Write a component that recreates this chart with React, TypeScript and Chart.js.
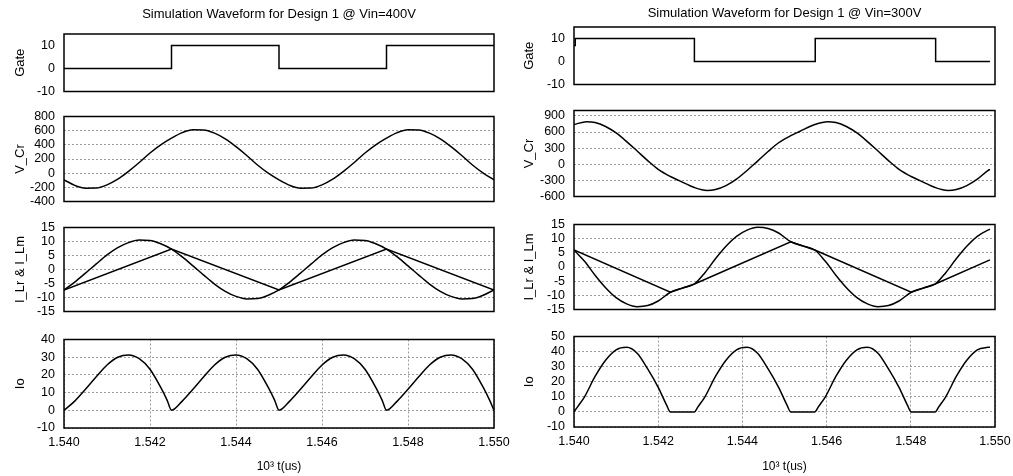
import React, { useEffect, useRef } from 'react';
import { Chart, registerables } from 'chart.js';

Chart.register(...registerables);

const FONT = "'Liberation Sans', Arial, Helvetica, sans-serif";
Chart.defaults.font.family = FONT;
Chart.defaults.color = '#000';

// ---------- shared axis data ----------
const xTicks = [1540, 1542, 1544, 1546, 1548, 1550];
const xTickLabels = ['1.540', '1.542', '1.544', '1.546', '1.548', '1.550'];
const xAxisTitle = '10³ t(us)';

const titleLeft = 'Simulation Waveform for Design 1 @ Vin=400V';
const titleRight = 'Simulation Waveform for Design 1 @ Vin=300V';

const gateTicks = [-10, 0, 10];
const vcrTicksLeft = [-400, -200, 0, 200, 400, 600, 800];
const vcrTicksRight = [-600, -300, 0, 300, 600, 900];
const iTicks = [-15, -10, -5, 0, 5, 10, 15];
const ioTicksLeft = [-10, 0, 10, 20, 30, 40];
const ioTicksRight = [-10, 0, 10, 20, 30, 40, 50];

// ---------- left column: Vin = 400V ----------
const gateTimeL = [1540, 1542.5, 1545, 1547.5, 1550];
const gateL = [0, 10, 0, 10, 10];

const timeL = [
  1540, 1540.25, 1540.5, 1540.75, 1541, 1541.25, 1541.5, 1541.75, 1542, 1542.25,
  1542.5, 1542.75, 1543, 1543.25, 1543.5, 1543.75, 1544, 1544.25, 1544.5, 1544.75,
  1545, 1545.25, 1545.5, 1545.75, 1546, 1546.25, 1546.5, 1546.75, 1547, 1547.25,
  1547.5, 1547.75, 1548, 1548.25, 1548.5, 1548.75, 1549, 1549.25, 1549.5, 1549.75,
  1550,
];
const vcrL = [
  -94, -172, -212, -210, -165, -85, 25, 150, 285, 400,
  494, 572, 612, 610, 565, 485, 375, 250, 115, 0,
  -94, -172, -212, -210, -165, -85, 25, 150, 285, 400,
  494, 572, 612, 610, 565, 485, 375, 250, 115, 0,
  -94,
];
const iLrL = [
  -7.3, -4.5, -1.3, 2.0, 5.2, 7.8, 9.6, 10.5, 10.4, 9.2,
  7.3, 4.5, 1.3, -2.0, -5.2, -7.8, -9.6, -10.5, -10.4, -9.2,
  -7.3, -4.5, -1.3, 2.0, 5.2, 7.8, 9.6, 10.5, 10.4, 9.2,
  7.3, 4.5, 1.3, -2.0, -5.2, -7.8, -9.6, -10.5, -10.4, -9.2,
  -7.3,
];
const iLmTimeL = [1540, 1542.5, 1545, 1547.5, 1550];
const iLmL = [-7.3, 7.3, -7.3, 7.3, -7.3];

const ioTimeL = [
  1540, 1540.25, 1540.5, 1540.75, 1541, 1541.25, 1541.5, 1541.75, 1542, 1542.25, 1542.4,
  1542.5, 1542.75, 1543, 1543.25, 1543.5, 1543.75, 1544, 1544.25, 1544.5, 1544.75, 1544.9,
  1545, 1545.25, 1545.5, 1545.75, 1546, 1546.25, 1546.5, 1546.75, 1547, 1547.25, 1547.4,
  1547.5, 1547.75, 1548, 1548.25, 1548.5, 1548.75, 1549, 1549.25, 1549.5, 1549.75, 1549.9,
  1550,
];
const ioL = [
  0, 5.2, 11.9, 18.9, 25.6, 30.0, 31.3, 29.2, 23.2, 12.9, 5.6,
  0, 5.2, 11.9, 18.9, 25.6, 30.0, 31.3, 29.2, 23.2, 12.9, 5.6,
  0, 5.2, 11.9, 18.9, 25.6, 30.0, 31.3, 29.2, 23.2, 12.9, 5.6,
  0, 5.2, 11.9, 18.9, 25.6, 30.0, 31.3, 29.2, 23.2, 12.9, 5.6,
  0,
];

// ---------- right column: Vin = 300V ----------
const gateTimeR = [1540, 1540.03, 1542.86, 1545.73, 1548.59, 1549.88];
const gateR = [7, 10, 0, 10, 0, 0];

const vcrTimeR = [
  1540, 1540.3, 1540.5, 1540.75, 1541, 1541.25, 1541.5, 1541.75, 1542, 1542.29,
  1542.5, 1542.86, 1543.16, 1543.36, 1543.61, 1543.86, 1544.11, 1544.36, 1544.61, 1544.86,
  1545.15, 1545.36, 1545.72, 1546.02, 1546.22, 1546.47, 1546.72, 1546.97, 1547.22, 1547.47,
  1547.72, 1548.01, 1548.22, 1548.58, 1548.88, 1549.08, 1549.33, 1549.58, 1549.83, 1549.88,
];
const vcrR = [
  738, 792, 776, 702, 582, 422, 246, 68, -95, -228,
  -305, -433, -487, -471, -397, -277, -117, 59, 237, 400,
  533, 610, 738, 792, 776, 702, 582, 422, 246, 68,
  -95, -228, -305, -433, -487, -471, -397, -277, -117, -95,
];

const iLrTimeR = [
  1540, 1540.25, 1540.5, 1540.75, 1541, 1541.25, 1541.5, 1541.75, 1542, 1542.29,
  1542.575, 1542.86, 1543.11, 1543.36, 1543.61, 1543.86, 1544.11, 1544.36, 1544.61, 1544.86,
  1545.15, 1545.435, 1545.72, 1545.97, 1546.22, 1546.47, 1546.72, 1546.97, 1547.22, 1547.47,
  1547.72, 1548.01, 1548.295, 1548.58, 1548.83, 1549.08, 1549.33, 1549.58, 1549.83, 1549.88,
];
const iLrR = [
  6, 2.0, -2.9, -7.3, -10.8, -13.0, -14.0, -13.6, -12.0, -8.9,
  -7.45, -6.0, -2.0, 2.9, 7.3, 10.8, 13.0, 14.0, 13.6, 12.0,
  8.9, 7.45, 6.0, 2.0, -2.9, -7.3, -10.8, -13.0, -14.0, -13.6,
  -12.0, -8.9, -7.45, -6.0, -2.0, 2.9, 7.3, 10.8, 13.0, 13.3,
];
const iLmTimeR = [1540, 1542.29, 1542.86, 1545.15, 1545.72, 1548.01, 1548.58, 1549.88];
const iLmR = [6, -8.9, -6.0, 8.9, 6.0, -8.9, -6.0, 2.5];

const ioTimeR = [
  1540, 1540.08, 1540.25, 1540.5, 1540.75, 1541, 1541.25, 1541.5, 1541.75, 1542, 1542.2, 1542.29,
  1542.86, 1542.94, 1543.11, 1543.36, 1543.61, 1543.86, 1544.11, 1544.36, 1544.61, 1544.86, 1545.06, 1545.15,
  1545.72, 1545.8, 1545.97, 1546.22, 1546.47, 1546.72, 1546.97, 1547.22, 1547.47, 1547.72, 1547.92, 1548.01,
  1548.58, 1548.66, 1548.83, 1549.08, 1549.33, 1549.58, 1549.83, 1549.88,
];
const ioR = [
  0, 3.2, 10, 23.5, 34.3, 41.2, 42.8, 38.9, 28.5, 16.3, 4.5, 0,
  0, 3.2, 10, 23.5, 34.3, 41.2, 42.8, 38.9, 28.5, 16.3, 4.5, 0,
  0, 3.2, 10, 23.5, 34.3, 41.2, 42.8, 38.9, 28.5, 16.3, 4.5, 0,
  0, 3.2, 10, 23.5, 34.3, 41.2, 42.8, 42.9,
];

// ---------- helpers ----------
const pts = (xs: number[], ys: number[]) => xs.map((x, i) => ({ x, y: ys[i] }));

const LINE = { borderColor: '#000', borderWidth: 1.5, pointRadius: 0, fill: false };
const smooth = (xs: number[], ys: number[], label: string) => ({
  ...LINE, label, data: pts(xs, ys), cubicInterpolationMode: 'monotone' as const,
});
const straight = (xs: number[], ys: number[], label: string) => ({
  ...LINE, label, data: pts(xs, ys), tension: 0,
});
const step = (xs: number[], ys: number[], label: string) => ({
  ...LINE, label, data: pts(xs, ys), stepped: true,
});

const boxPlugin = {
  id: 'panelBox',
  afterDraw(chart: any) {
    const { ctx, chartArea } = chart;
    const { left, top, right, bottom } = chartArea;
    ctx.save();
    ctx.strokeStyle = '#000';
    ctx.lineWidth = 1.5;
    ctx.strokeRect(left, top, right - left, bottom - top);
    ctx.restore();
  },
};

type PanelSpec = {
  id: string;
  left: number; top: number; width: number; height: number;
  yAxisWidth: number; padR: number; padT: number; padB: number;
  yMin: number; yMax: number; yTicks: number[]; yTitle: string; yTitlePad: number;
  yGrid: boolean; xGrid: boolean; showX: boolean; xAxisHeight: number;
  title?: string; titlePad?: { top: number; bottom: number };
  datasets: any[];
};

const GRID_COLOR = '#9c9c9c';

function buildConfig(s: PanelSpec): any {
  return {
    type: 'line',
    data: { datasets: s.datasets },
    plugins: [boxPlugin],
    options: {
      responsive: false,
      maintainAspectRatio: false,
      animation: false,
      events: [],
      layout: { padding: { left: 0, right: s.padR, top: s.padT, bottom: s.padB } },
      plugins: {
        legend: { display: false },
        tooltip: { enabled: false },
        title: s.title
          ? {
              display: true,
              text: s.title,
              fullSize: false,
              color: '#000',
              font: { family: FONT, size: 13, weight: 'normal' },
              padding: s.titlePad,
            }
          : { display: false },
      },
      scales: {
        x: {
          type: 'linear',
          min: 1540,
          max: 1550,
          display: s.showX,
          afterBuildTicks: (axis: any) => {
            axis.ticks = xTicks.map((v) => ({ value: v }));
          },
          afterFit: (axis: any) => {
            axis.height = s.xAxisHeight;
          },
          ticks: {
            autoSkip: false,
            maxRotation: 0,
            padding: 7,
            color: '#000',
            font: { family: FONT, size: 12.5 },
            callback: (_v: any, i: number) => xTickLabels[i],
          },
          grid: { display: s.xGrid, color: GRID_COLOR, lineWidth: 1, drawTicks: false },
          border: { display: false, dash: [2, 2] },
          title: {
            display: s.showX,
            text: xAxisTitle,
            color: '#000',
            font: { family: FONT, size: 12 },
            padding: { top: 0, bottom: 2 },
          },
        },
        y: {
          type: 'linear',
          min: s.yMin,
          max: s.yMax,
          afterBuildTicks: (axis: any) => {
            axis.ticks = s.yTicks.map((v) => ({ value: v }));
          },
          afterFit: (axis: any) => {
            axis.width = s.yAxisWidth;
          },
          ticks: {
            autoSkip: false,
            padding: 9,
            color: '#000',
            font: { family: FONT, size: 12.5 },
          },
          grid: { display: s.yGrid, color: GRID_COLOR, lineWidth: 1, drawTicks: false },
          border: { display: false, dash: [2, 2] },
          title: {
            display: true,
            text: s.yTitle,
            color: '#000',
            font: { family: FONT, size: 13 },
            padding: { top: s.yTitlePad, bottom: 0 },
          },
        },
      },
    },
  };
}

function Panel({ spec }: { spec: PanelSpec }) {
  const ref = useRef<HTMLCanvasElement | null>(null);
  useEffect(() => {
    if (!ref.current) return;
    const chart = new Chart(ref.current, buildConfig(spec));
    return () => chart.destroy();
  }, [spec]);
  return (
    <canvas
      ref={ref}
      width={spec.width}
      height={spec.height}
      style={{ position: 'absolute', left: spec.left, top: spec.top, width: spec.width, height: spec.height }}
    />
  );
}

// ---------- panel layout ----------
const L = { left: 0, width: 530, yAxisWidth: 64, padR: 36, yTitlePad: 12.2 };
const R = { left: 506, width: 520, yAxisWidth: 68, padR: 31, yTitlePad: 15.2 };

const base = { yGrid: true, xGrid: false, showX: false, xAxisHeight: 0 };

const panels: PanelSpec[] = [
  // left column
  {
    id: 'gateL', ...L, ...base, yGrid: false, top: 0, height: 108, padT: 0, padB: 12,
    yMin: -10, yMax: 15, yTicks: gateTicks, yTitle: 'Gate',
    title: titleLeft, titlePad: { top: 7, bottom: 11.4 },
    datasets: [step(gateTimeL, gateL, 'Gate')],
  },
  {
    id: 'vcrL', ...L, ...base, top: 100, height: 118, padT: 12, padB: 12,
    yMin: -400, yMax: 800, yTicks: vcrTicksLeft, yTitle: 'V_Cr',
    datasets: [smooth(timeL, vcrL, 'V_Cr')],
  },
  {
    id: 'iL', ...L, ...base, top: 211, height: 117, padT: 12, padB: 12,
    yMin: -15, yMax: 15, yTicks: iTicks, yTitle: 'I_Lr & I_Lm',
    datasets: [smooth(timeL, iLrL, 'I_Lr'), straight(iLmTimeL, iLmL, 'I_Lm')],
  },
  {
    id: 'ioL', ...L, ...base, xGrid: true, showX: true, xAxisHeight: 48,
    top: 323, height: 153, padT: 12, padB: 0,
    yMin: -10, yMax: 40, yTicks: ioTicksLeft, yTitle: 'Io',
    datasets: [smooth(ioTimeL, ioL, 'Io')],
  },
  // right column
  {
    id: 'gateR', ...R, ...base, yGrid: false, top: 0, height: 101, padT: 0, padB: 12,
    yMin: -10, yMax: 15, yTicks: gateTicks, yTitle: 'Gate',
    title: titleRight, titlePad: { top: 5.7, bottom: 5.7 },
    datasets: [step(gateTimeR, gateR, 'Gate')],
  },
  {
    id: 'vcrR', ...R, ...base, top: 94, height: 119, padT: 12, padB: 12,
    yMin: -600, yMax: 1000, yTicks: vcrTicksRight, yTitle: 'V_Cr',
    datasets: [smooth(vcrTimeR, vcrR, 'V_Cr')],
  },
  {
    id: 'iR', ...R, ...base, top: 208, height: 118, padT: 12, padB: 12,
    yMin: -15, yMax: 15, yTicks: iTicks, yTitle: 'I_Lr & I_Lm',
    datasets: [smooth(iLrTimeR, iLrR, 'I_Lr'), straight(iLmTimeR, iLmR, 'I_Lm')],
  },
  {
    id: 'ioR', ...R, ...base, xGrid: true, showX: true, xAxisHeight: 49,
    top: 320, height: 156, padT: 12, padB: 0,
    yMin: -10, yMax: 50, yTicks: ioTicksRight, yTitle: 'Io',
    datasets: [smooth(ioTimeR, ioR, 'Io')],
  },
];

export default function App() {
  return (
    <div
      style={{
        position: 'absolute',
        left: 0,
        top: 0,
        width: 1013,
        height: 476,
        background: '#fff',
        overflow: 'hidden',
      }}
    >
      {panels.map((p) => (
        <Panel key={p.id} spec={p} />
      ))}
    </div>
  );
}
